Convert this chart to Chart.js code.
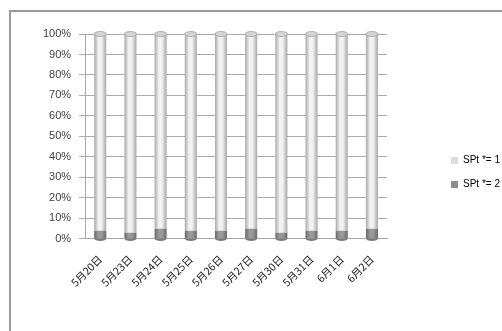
<!DOCTYPE html>
<html>
<head>
<meta charset="utf-8">
<script src="https://cdn.jsdelivr.net/npm/chart.js@4"></script>
<style>
  html, body { margin: 0; padding: 0; background: #fff; }
  #wrap { width: 502px; height: 331px; position: relative; }
</style>
</head>
<body>
<div id="wrap"><canvas id="c" width="502" height="331"></canvas></div>
<script>
// Daily share of each SPt class (percent of the day's total)
const categories = ['5月20日', '5月23日', '5月24日', '5月25日', '5月26日', '5月27日', '5月30日', '5月31日', '6月1日', '6月2日'];
const spt1 = [96, 97, 95, 96, 96, 95, 97, 96, 96, 95];
const spt2 = [4, 3, 5, 4, 4, 5, 3, 4, 4, 5];
const yTicks = [0, 10, 20, 30, 40, 50, 60, 70, 80, 90, 100];

// Shaded fill that imitates a cylinder lit from the left
function cylinderFill(light, mid, dark) {
  return function (ctx) {
    const chart = ctx.chart;
    const x = chart.scales && chart.scales.x;
    if (!x || ctx.type !== 'data') return mid;
    const meta = chart.getDatasetMeta(ctx.datasetIndex);
    const el = meta.data[ctx.dataIndex];
    const cx = x.getPixelForValue(ctx.dataIndex);
    const w = (el && el.width) ? el.width : 12;
    const g = chart.ctx.createLinearGradient(cx - w / 2, 0, cx + w / 2, 0);
    g.addColorStop(0, dark);
    g.addColorStop(0.35, light);
    g.addColorStop(0.6, light);
    g.addColorStop(1, dark);
    return g;
  };
}

// Outer frame of the chart object (top and left edges)
const framePlugin = {
  id: 'frame',
  beforeDraw(chart) {
    const c = chart.ctx;
    c.save();
    c.fillStyle = '#ffffff';
    c.fillRect(0, 0, chart.width, chart.height);
    c.strokeStyle = '#9a9a9a';
    c.lineWidth = 2;
    c.beginPath();
    c.moveTo(10, chart.height + 2);
    c.lineTo(10, 11);
    c.lineTo(chart.width + 2, 11);
    c.stroke();
    c.restore();
  }
};

// Rounded caps on the columns so they read as cylinders
const capPlugin = {
  id: 'caps',
  afterDatasetsDraw(chart) {
    const c = chart.ctx;
    const top = chart.getDatasetMeta(1).data;
    const bottom = chart.getDatasetMeta(0).data;
    c.save();
    bottom.forEach(el => {
      const rx = el.width / 2;
      c.beginPath();
      c.ellipse(el.x, el.base, rx, 2.5, 0, 0, Math.PI);
      c.fillStyle = '#7a7a7a';
      c.fill();
    });
    top.forEach(el => {
      const rx = el.width / 2;
      c.beginPath();
      c.ellipse(el.x, el.y, rx, 2.5, 0, 0, Math.PI * 2);
      c.fillStyle = '#d4d4d4';
      c.fill();
      c.strokeStyle = '#a0a0a0';
      c.lineWidth = 0.8;
      c.stroke();
    });
    c.restore();
  }
};

// Moves the legend box out into the right-hand margin
const legendPlacer = {
  id: 'legendPlacer',
  afterLayout(chart) {
    const lg = chart.legend;
    if (!lg) return;
    lg.left = 437;
    lg.right = chart.width;
    const dy = 8;
    lg.top += dy;
    lg.bottom += dy;
  }
};

new Chart(document.getElementById('c'), {
  type: 'bar',
  data: {
    labels: categories,
    datasets: [
      {
        label: 'SPt *= 2',
        data: spt2,
        backgroundColor: cylinderFill('#9a9a9a', '#8a8a8a', '#6a6a6a'),
        borderWidth: 0,
        barPercentage: 0.8,
        categoryPercentage: 0.5
      },
      {
        label: 'SPt *= 1',
        data: spt1,
        backgroundColor: cylinderFill('#f2f2f2', '#d9d9d9', '#a8a8a8'),
        borderWidth: 0,
        barPercentage: 0.8,
        categoryPercentage: 0.5
      }
    ]
  },
  options: {
    responsive: false,
    animation: false,
    devicePixelRatio: 1,
    layout: { padding: { top: 34, left: 35, right: 42, bottom: 36 } },
    plugins: {
      tooltip: { enabled: false },
      legend: {
        position: 'right',
        reverse: true,
        labels: {
          boxWidth: 7,
          boxHeight: 7,
          padding: 14,
          color: '#404040',
          font: { family: 'Liberation Sans', size: 10 },
          generateLabels(chart) {
            const cols = ['#8c8c8c', '#dcdcdc'];
            return chart.data.datasets.map((ds, i) => ({
              text: ds.label,
              fillStyle: cols[i],
              strokeStyle: cols[i],
              lineWidth: 0,
              datasetIndex: i,
              hidden: false
            }));
          }
        }
      }
    },
    scales: {
      x: {
        stacked: true,
        grid: { display: false },
        border: { color: '#a8a8a8' },
        ticks: {
          maxRotation: 45,
          minRotation: 45,
          color: '#202020',
          padding: 6,
          font: { family: 'Noto Sans CJK JP', size: 10.5 }
        }
      },
      y: {
        stacked: true,
        min: 0,
        max: 100,
        afterBuildTicks(scale) {
          scale.ticks = yTicks.map(v => ({ value: v }));
        },
        grid: { color: '#ababab', tickLength: 6 },
        border: { color: '#a8a8a8' },
        ticks: {
          padding: 8,
          color: '#404040',
          font: { family: 'Liberation Sans', size: 11 },
          callback: v => v + '%'
        }
      }
    }
  },
  plugins: [framePlugin, capPlugin, legendPlacer]
});
</script>
</body>
</html>
